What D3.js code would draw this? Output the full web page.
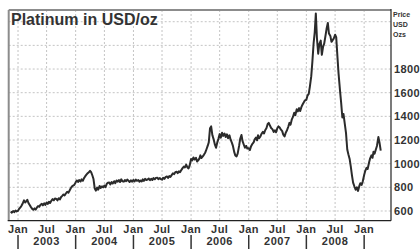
<!DOCTYPE html>
<html lang="en">
<head>
    <meta charset="UTF-8">
    <script src="https://d3js.org/d3.v7.min.js"></script>
    <title>Platinum in USD/oz</title>
    <style>
        body { margin: 0; background: #fff; }
        text { font-family: "Liberation Sans", Arial, sans-serif; font-weight: bold; fill: #333; }
    </style>
</head>
<body>

<div id="draw_here"></div>

<script type="text/javascript">

    // weekly closes (1st, 8th, 16th, 23rd of each month)
    var p2002 = [595, 586, 600, 590, 604, 596]; // from 16 Nov
    var p2003 = [602, 618, 630, 645, 668, 690, 672, 684, 695, 668, 650, 635,
                 618, 610, 622, 612, 630, 642, 636, 652, 660, 648, 665, 652,
                 672, 660, 678, 668, 688, 700, 690, 706, 702, 690, 708, 698,
                 718, 728, 740, 732, 750, 762, 755, 772, 792, 806, 815, 820];
    var p2004 = [842, 858, 846, 862, 850, 868, 856, 878, 892, 905, 918, 925,
                 940, 928, 900, 870, 790, 772, 798, 780, 812, 795, 808, 800,
                 815, 802, 830, 838, 840, 825, 845, 832, 852, 835, 858, 848,
                 862, 845, 868, 852, 848, 862, 852, 866, 855, 845, 860, 848];
    var p2005 = [862, 850, 866, 855, 862, 848, 858, 850, 868, 855, 872, 862,
                 866, 875, 860, 872, 862, 878, 868, 880, 882, 868, 878, 870,
                 865, 880, 872, 886, 892, 880, 896, 888, 905, 918, 912, 928,
                 932, 920, 935, 928, 948, 962, 975, 968, 992, 970, 960, 985];
    var p2006 = [1040, 1028, 1052, 1035, 1050, 1018, 1030, 1045, 1070, 1048, 1062, 1075,
                 1095, 1120, 1150, 1180, 1300, 1315, 1240, 1210, 1160, 1135, 1180, 1210,
                 1250, 1220, 1262, 1235, 1255, 1225, 1248, 1215, 1240, 1205, 1178, 1150,
                 1100, 1070, 1062, 1085, 1150, 1210, 1242, 1190, 1160, 1135, 1150, 1128];
    var p2007 = [1130, 1115, 1148, 1165, 1180, 1205, 1220, 1198, 1240, 1215, 1230, 1252,
                 1270, 1255, 1285, 1300, 1335, 1345, 1320, 1302, 1290, 1268, 1282, 1265,
                 1300, 1315, 1305, 1290, 1275, 1245, 1230, 1260, 1285, 1310, 1345, 1330,
                 1375, 1395, 1430, 1410, 1460, 1442, 1470, 1445, 1480, 1500, 1520, 1535];
    var p2008 = [1540, 1575, 1590, 1650, 1740, 1860, 2020, 2110, 2270, 2060, 1930, 2010,
                 2040, 1920, 1990, 2015, 2080, 2140, 2190, 2100, 2080, 2030, 2045, 2060,
                 2090, 2070, 1900, 1760, 1620, 1520, 1390, 1420, 1330, 1260, 1120, 1080,
                 1040, 980, 900, 840, 805, 780, 800, 770, 810, 835, 820, 850];
    var p2009 = [905, 940, 965, 955, 1010, 1045, 1070, 1050, 1100, 1085, 1120, 1150,
                 1225, 1180, 1110];

    var yTicks = [600, 800, 1000, 1200, 1400, 1600, 1800];
    var yGrid = [600, 800, 1000, 1200, 1400, 1600, 1800, 2000, 2200];
    var years = [2003, 2004, 2005, 2006, 2007, 2008];
    var unitLines = ["Price", "USD", "Ozs"];

    var width = 420;
    var height = 249;
    var days = [1, 8, 16, 23];

    function series(year, firstSlot, vals) {
        return vals.map((v, i) => {
            var slot = firstSlot + i;
            return {date: new Date(year, Math.floor(slot / 4), days[slot % 4]), value: v};
        });
    }

    var data = [].concat(
        series(2002, 42, p2002),
        series(2003, 0, p2003),
        series(2004, 0, p2004),
        series(2005, 0, p2005),
        series(2006, 0, p2006),
        series(2007, 0, p2007),
        series(2008, 0, p2008),
        series(2009, 0, p2009)
    );

    var margin = {top: 10, right: 29, bottom: 28.3, left: 8.7};

    var x = d3.scaleTime()
        .domain([new Date(2002, 10, 3), new Date(2009, 5, 20)])
        .range([margin.left, width - margin.right]);

    var y = d3.scaleLinear()
        .domain([518, 2299])
        .range([height - margin.bottom, margin.top]);

    var svg = d3.select("#draw_here")
        .append("svg")
        .attr("width", width)
        .attr("height", height);

    svg.append("rect")
        .attr("width", width)
        .attr("height", height)
        .attr("fill", "#fff");

    var halfYears = d3.timeMonth.every(6).range(new Date(2003, 0, 1), new Date(2009, 1, 1));
    var jans = halfYears.filter(d => d.getMonth() === 0);

    // grid
    svg.append("g")
        .selectAll("line")
        .data(yGrid)
        .join("line")
        .attr("x1", margin.left)
        .attr("x2", width - margin.right)
        .attr("y1", d => y(d))
        .attr("y2", d => y(d))
        .attr("stroke", "#c4c4c4")
        .attr("stroke-dasharray", "2,2");

    svg.append("g")
        .selectAll("line")
        .data(halfYears)
        .join("line")
        .attr("x1", d => x(d))
        .attr("x2", d => x(d))
        .attr("y1", margin.top)
        .attr("y2", height - margin.bottom)
        .attr("stroke", "#c4c4c4")
        .attr("stroke-dasharray", "2,2");

    // price line
    var line = d3.line()
        .x(d => x(d.date))
        .y(d => y(d.value));

    svg.append("path")
        .datum(data)
        .attr("fill", "none")
        .attr("stroke", "#2b2b2b")
        .attr("stroke-width", 2)
        .attr("stroke-linejoin", "round")
        .attr("d", line);

    // frame
    svg.append("line")
        .attr("x1", margin.left).attr("x2", width - margin.right)
        .attr("y1", margin.top).attr("y2", margin.top)
        .attr("stroke", "#8c8c8c").attr("stroke-width", 2);
    svg.append("line")
        .attr("x1", margin.left).attr("x2", margin.left)
        .attr("y1", margin.top).attr("y2", height - margin.bottom)
        .attr("stroke", "#8c8c8c").attr("stroke-width", 2);
    svg.append("line")
        .attr("x1", width - margin.right).attr("x2", width - margin.right)
        .attr("y1", margin.top - 1).attr("y2", height - margin.bottom)
        .attr("stroke", "#222").attr("stroke-width", 1.2);
    svg.append("line")
        .attr("x1", margin.left - 1).attr("x2", width - margin.right)
        .attr("y1", height - margin.bottom).attr("y2", height - margin.bottom)
        .attr("stroke", "#222").attr("stroke-width", 1.2);

    // y labels on the right
    svg.append("g")
        .selectAll("text")
        .data(yTicks)
        .join("text")
        .attr("x", width - margin.right + 3)
        .attr("y", d => y(d) + 4)
        .attr("font-size", 11)
        .attr("letter-spacing", 0.4)
        .text(d => d);

    svg.append("g")
        .selectAll("text")
        .data(unitLines)
        .join("text")
        .attr("x", width - margin.right + 2)
        .attr("y", (d, i) => 17 + i * 10)
        .attr("font-size", 7)
        .text(d => d);

    // month labels
    svg.append("g")
        .selectAll("text")
        .data(halfYears)
        .join("text")
        .attr("x", d => x(d))
        .attr("y", 233)
        .attr("text-anchor", "middle")
        .attr("font-size", 11)
        .attr("letter-spacing", 0.4)
        .text(d => d3.timeFormat("%b")(d));

    // year separators and labels
    svg.append("g")
        .selectAll("line")
        .data(jans)
        .join("line")
        .attr("x1", d => x(d))
        .attr("x2", d => x(d))
        .attr("y1", 235)
        .attr("y2", 249)
        .attr("stroke", "#333")
        .attr("stroke-width", 1.5);

    svg.append("g")
        .selectAll("text")
        .data(years)
        .join("text")
        .attr("x", d => x(new Date(d, 6, 1)))
        .attr("y", 245)
        .attr("text-anchor", "middle")
        .attr("font-size", 11)
        .attr("letter-spacing", 0.5)
        .text(d => d);

    svg.append("text")
        .attr("x", 11)
        .attr("y", 25)
        .attr("font-size", 16)
        .text("Platinum in USD/oz");

</script>

</body>
</html>
